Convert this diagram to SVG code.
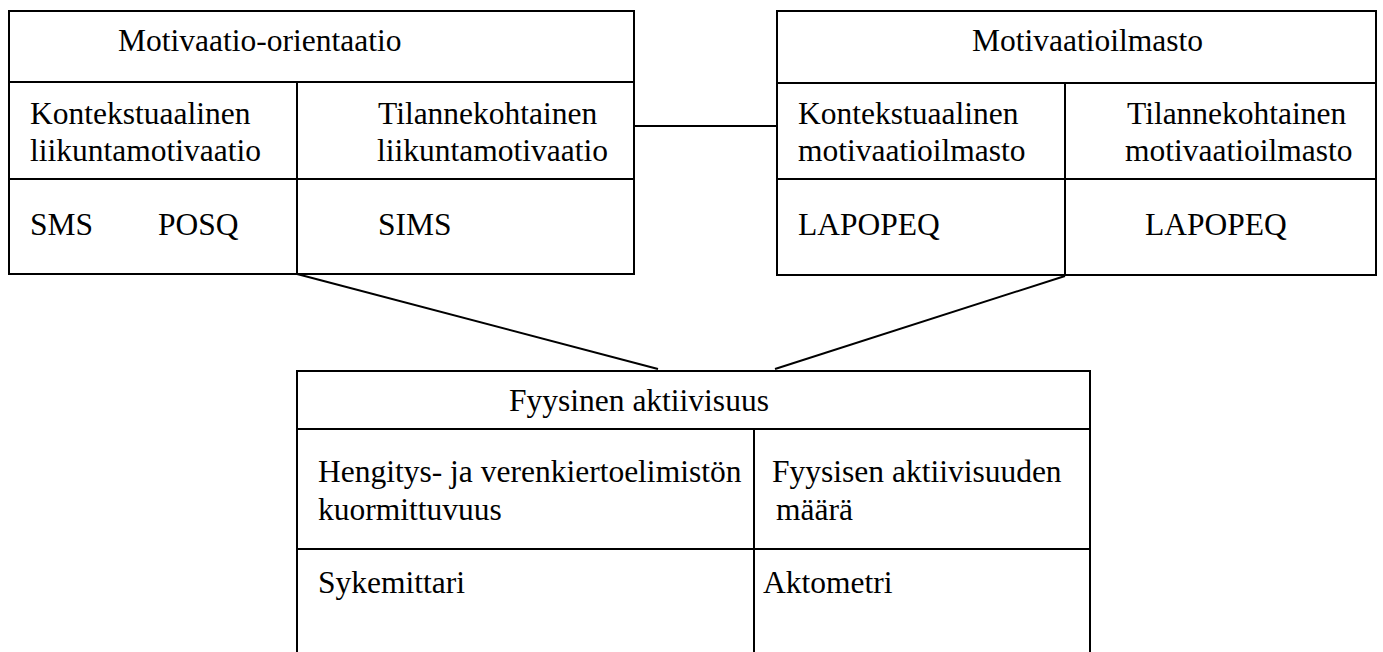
<svg xmlns="http://www.w3.org/2000/svg" width="1383" height="652" viewBox="0 0 1383 652">
<style>
.box{fill:#fff;stroke:#000;stroke-width:2}
.ln{stroke:#000;stroke-width:2;fill:none}
.t{font-family:'Liberation Serif','Times New Roman',Times,serif;font-size:31.5px;fill:#000}
</style>
<rect width="1383" height="652" fill="#fff"/>
<g id="connectors">
<line class="ln" x1="634" y1="126" x2="777" y2="126"/>
<line class="ln" x1="297" y1="274" x2="658" y2="369"/>
<line class="ln" x1="1065" y1="276" x2="775" y2="369"/>
</g>
<g id="motivaatio-orientaatio">
<rect class="box" x="9" y="11" width="625" height="263"/>
<line class="ln" x1="9" y1="82" x2="634" y2="82"/>
<line class="ln" x1="9" y1="179" x2="634" y2="179"/>
<line class="ln" x1="297" y1="82" x2="297" y2="274"/>
<g class="t">
<text x="118" y="50.5">Motivaatio-orientaatio</text>
<text x="30" y="124">Kontekstuaalinen</text>
<text x="30" y="161">liikuntamotivaatio</text>
<text x="378" y="124">Tilannekohtainen</text>
<text x="377" y="161">liikuntamotivaatio</text>
<text x="30" y="235">SMS</text>
<text x="158" y="235">POSQ</text>
<text x="378" y="235">SIMS</text>
</g>
</g>
<g id="motivaatioilmasto">
<rect class="box" x="777" y="11" width="599" height="264"/>
<line class="ln" x1="777" y1="83" x2="1376" y2="83"/>
<line class="ln" x1="777" y1="179" x2="1376" y2="179"/>
<line class="ln" x1="1065" y1="83" x2="1065" y2="275"/>
<g class="t">
<text x="972" y="50.5">Motivaatioilmasto</text>
<text x="798" y="124">Kontekstuaalinen</text>
<text x="798" y="161">motivaatioilmasto</text>
<text x="1127" y="124">Tilannekohtainen</text>
<text x="1125" y="161">motivaatioilmasto</text>
<text x="798" y="235">LAPOPEQ</text>
<text x="1145" y="235">LAPOPEQ</text>
</g>
</g>
<g id="fyysinen-aktiivisuus">
<path class="ln" d="M297,660 V371 H1090 V660"/>
<line class="ln" x1="297" y1="429" x2="1090" y2="429"/>
<line class="ln" x1="297" y1="549" x2="1090" y2="549"/>
<line class="ln" x1="754" y1="429" x2="754" y2="660"/>
<g class="t">
<text x="509" y="410.5">Fyysinen aktiivisuus</text>
<text x="318" y="482">Hengitys- ja verenkiertoelimistön</text>
<text x="318" y="520">kuormittuvuus</text>
<text x="772" y="482">Fyysisen aktiivisuuden</text>
<text x="776" y="520">määrä</text>
<text x="318" y="593">Sykemittari</text>
<text x="763" y="593">Aktometri</text>
</g>
</g>
</svg>
